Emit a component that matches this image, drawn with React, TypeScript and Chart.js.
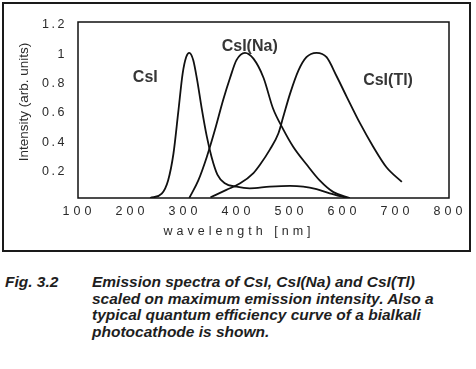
import React, { useEffect, useRef } from 'react';
import { Chart, registerables } from 'chart.js';

Chart.register(...registerables);

// ---- data ----
const seriesNames = ['CsI', 'CsI(Na)', 'CsI(Tl)'];

const csiWavelength = [236, 258, 270, 280, 289, 297.5, 304, 310, 317.5, 325, 333, 343, 352, 363, 377, 399, 424, 462, 500, 525, 550, 575, 607];
const csiIntensity = [0, 0.03, 0.12, 0.3, 0.58, 0.85, 0.96, 0.99, 0.94, 0.8, 0.62, 0.42, 0.28, 0.16, 0.1, 0.077, 0.066, 0.077, 0.082, 0.077, 0.06, 0.032, 0];

const csiNaWavelength = [310, 327, 343, 358, 374, 387, 399, 415, 431, 450, 468, 487, 506, 531, 556, 582, 613];
const csiNaIntensity = [0, 0.12, 0.28, 0.46, 0.67, 0.82, 0.94, 0.99, 0.95, 0.82, 0.61, 0.47, 0.35, 0.23, 0.12, 0.04, 0];

const csiTlWavelength = [350, 380, 406, 431, 443, 462, 478, 487, 500, 516, 531, 550, 569, 588, 607, 632, 657, 682, 711];
const csiTlIntensity = [0.005, 0.055, 0.1, 0.17, 0.225, 0.33, 0.44, 0.55, 0.71, 0.87, 0.96, 0.99, 0.96, 0.83, 0.69, 0.51, 0.35, 0.21, 0.11];

// label anchor positions in data space (nm, intensity)
const labelWavelength = [227, 424, 685];
const labelIntensity = [0.82, 1.03, 0.8];

const yTickLabels = ['', '0.2', '0.4', '0.6', '0.8', '1', '1.2'];
const xTickValues = [100, 200, 300, 400, 500, 600, 700, 800];

const xTitle = 'wavelength [nm]';
const yTitle = 'Intensity (arb. units)';

const captionLabel = 'Fig. 3.2';
const captionLines = [
  'Emission spectra of CsI, CsI(Na) and CsI(Tl)',
  'scaled on maximum emission intensity. Also a',
  'typical quantum efficiency curve of a bialkali',
  'photocathode is shown.',
];

const FONT = '"Liberation Sans", Arial, Helvetica, sans-serif';

function toPoints(xs: number[], ys: number[]) {
  return xs.map((x, i) => ({ x, y: ys[i] }));
}

function wrap(scale: any, name: string, spacing: string, dx: number, dy: number) {
  const key = '__wrapped_' + name;
  if (!scale || scale[key]) return;
  const orig = scale[name];
  scale[name] = function (...args: any[]) {
    const ctx = this.ctx;
    ctx.save();
    ctx.letterSpacing = spacing;
    ctx.translate(dx, dy);
    orig.apply(this, args);
    ctx.restore();
  };
  scale[key] = true;
}

const decorPlugin = {
  id: 'decor',
  beforeDraw(chart: any) {
    const { ctx } = chart;
    ctx.save();
    ctx.strokeStyle = '#1a1a1a';
    ctx.lineWidth = 2;
    ctx.strokeRect(3, 3, 467, 248);
    ctx.restore();
    wrap(chart.scales.x, 'drawLabels', '4px', 1, 0);
    wrap(chart.scales.x, 'drawTitle', '4px', -24.5, 0);
    wrap(chart.scales.y, 'drawLabels', '2.5px', 0, 0);
    wrap(chart.scales.y, 'drawTitle', '0px', 0, -8);
  },
  afterDatasetsDraw(chart: any) {
    const { ctx, chartArea: a, scales } = chart;
    ctx.save();
    ctx.strokeStyle = '#111';
    ctx.lineWidth = 1.5;
    ctx.strokeRect(a.left, a.top, a.right - a.left, a.bottom - a.top);
    ctx.font = `bold 16px ${FONT}`;
    ctx.fillStyle = '#363636';
    ctx.textAlign = 'center';
    ctx.textBaseline = 'middle';
    seriesNames.forEach((name, i) => {
      ctx.fillText(
        name,
        scales.x.getPixelForValue(labelWavelength[i]),
        scales.y.getPixelForValue(labelIntensity[i])
      );
    });
    ctx.restore();
  },
};

export default function App() {
  const ref = useRef<HTMLCanvasElement | null>(null);

  useEffect(() => {
    if (!ref.current) return;
    const lineStyle = {
      borderColor: '#111',
      borderWidth: 1.8,
      pointRadius: 0,
      fill: false,
      cubicInterpolationMode: 'monotone' as const,
    };
    const chart = new Chart(ref.current, {
      type: 'line',
      data: {
        datasets: [
          { label: seriesNames[0], data: toPoints(csiWavelength, csiIntensity), ...lineStyle },
          { label: seriesNames[1], data: toPoints(csiNaWavelength, csiNaIntensity), ...lineStyle },
          { label: seriesNames[2], data: toPoints(csiTlWavelength, csiTlIntensity), ...lineStyle },
        ],
      },
      options: {
        animation: false,
        responsive: false,
        layout: { padding: { top: 22, right: 27, bottom: 0, left: 0 } },
        plugins: { legend: { display: false }, tooltip: { enabled: false } },
        scales: {
          x: {
            type: 'linear',
            min: 100,
            max: 800,
            afterBuildTicks: (scale: any) => {
              scale.ticks = xTickValues.map((v) => ({ value: v }));
            },
            afterFit: (scale: any) => {
              scale.height = 57;
            },
            grid: { display: false, drawTicks: false },
            border: { display: false },
            ticks: {
              padding: 6,
              maxRotation: 0,
              autoSkip: false,
              color: '#2a2a2a',
              font: { family: FONT, size: 12.5 },
              callback: (v: any) => String(v),
            },
            title: {
              display: true,
              text: xTitle,
              color: '#2a2a2a',
              font: { family: FONT, size: 12.5 },
              padding: { top: 0, bottom: 16 },
            },
          },
          y: {
            type: 'linear',
            min: 0,
            max: 1.2,
            ticks: {
              stepSize: 0.2,
              padding: 11,
              labelOffset: 3,
              color: '#2a2a2a',
              font: { family: FONT, size: 12.5 },
              callback: (_v: any, i: number) => yTickLabels[i],
            },
            afterFit: (scale: any) => {
              scale.width = 78;
            },
            grid: { display: false, drawTicks: false },
            border: { display: false },
            title: {
              display: true,
              text: yTitle,
              color: '#2a2a2a',
              font: { family: FONT, size: 13.5 },
              padding: { top: 16, bottom: 0 },
            },
          },
        },
      },
      plugins: [decorPlugin],
    } as any);
    return () => chart.destroy();
  }, []);

  const captionStyle: React.CSSProperties = {
    position: 'absolute',
    top: 274.4,
    fontFamily: FONT,
    fontWeight: 'bold',
    fontStyle: 'italic',
    fontSize: 15.5,
    lineHeight: '16.5px',
    color: '#1e1e1e',
    whiteSpace: 'nowrap',
  };

  return (
    <div style={{ position: 'absolute', left: 0, top: 0, width: 476, height: 369, background: '#fff' }}>
      <canvas ref={ref} width={476} height={255} style={{ position: 'absolute', left: 0, top: 0 }} />
      <div style={{ ...captionStyle, left: 5 }}>{captionLabel}</div>
      <div style={{ ...captionStyle, left: 92 }}>
        {captionLines.map((l, i) => (
          <div key={i}>{l}</div>
        ))}
      </div>
    </div>
  );
}
